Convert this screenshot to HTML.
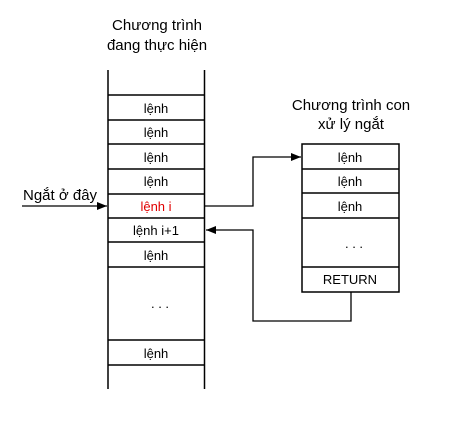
<!DOCTYPE html>
<html><head><meta charset="utf-8"><style>
html,body{margin:0;padding:0;background:#fff;}
svg{display:block;font-family:"Liberation Sans",Arial,sans-serif;}
</style></head><body>
<svg width="470" height="421" viewBox="0 0 470 421" xmlns="http://www.w3.org/2000/svg">
<defs><marker id="a" markerWidth="10" markerHeight="8" refX="10" refY="4" orient="auto" markerUnits="userSpaceOnUse"><path d="M0,0 L10,4 L0,8 z" fill="#000"/></marker></defs>
<g font-size="15" text-anchor="middle" fill="#000">
<text x="157" y="30">Chương trình</text>
<text x="157" y="50">đang thực hiện</text>
<text x="351" y="110">Chương trình con</text>
<text x="351" y="129">xử lý ngắt</text>
<text x="23" y="200" text-anchor="start">Ngắt ở đây</text>
</g>
<g stroke="#000" stroke-width="1.5" fill="none">
<line x1="108" y1="70" x2="108" y2="389"/>
<line x1="204.5" y1="70" x2="204.5" y2="389"/>
<line x1="108" y1="95" x2="204.5" y2="95"/>
<line x1="108" y1="120" x2="204.5" y2="120"/>
<line x1="108" y1="144" x2="204.5" y2="144"/>
<line x1="108" y1="169" x2="204.5" y2="169"/>
<line x1="108" y1="194" x2="204.5" y2="194"/>
<line x1="108" y1="218" x2="204.5" y2="218"/>
<line x1="108" y1="242" x2="204.5" y2="242"/>
<line x1="108" y1="267" x2="204.5" y2="267"/>
<line x1="108" y1="340" x2="204.5" y2="340"/>
<line x1="108" y1="365" x2="204.5" y2="365"/>
<rect x="302" y="144" width="97" height="148"/>
<line x1="302" y1="169" x2="399" y2="169"/>
<line x1="302" y1="193" x2="399" y2="193"/>
<line x1="302" y1="218" x2="399" y2="218"/>
<line x1="302" y1="267" x2="399" y2="267"/>
</g>
<g stroke="#000" stroke-width="1.3" fill="none">
<line x1="22" y1="206" x2="107" y2="206" marker-end="url(#a)"/>
<polyline points="205,206 253,206 253,157 301,157" marker-end="url(#a)"/>
<polyline points="351,292 351,321 253,321 253,230 206,230" marker-end="url(#a)"/>
</g>
<g font-size="13" text-anchor="middle" fill="#000">
<text x="156" y="113">lệnh</text>
<text x="156" y="137">lệnh</text>
<text x="156" y="162">lệnh</text>
<text x="156" y="186">lệnh</text>
<text x="156" y="211" fill="#e00000">lệnh i</text>
<text x="156" y="235">lệnh i+1</text>
<text x="156" y="260">lệnh</text>
<text x="160" y="308">. . .</text>
<text x="156" y="358">lệnh</text>
<text x="350" y="162">lệnh</text>
<text x="350" y="186">lệnh</text>
<text x="350" y="211">lệnh</text>
<text x="354" y="248">. . .</text>
<text x="350" y="284">RETURN</text>
</g>
</svg>
</body></html>
